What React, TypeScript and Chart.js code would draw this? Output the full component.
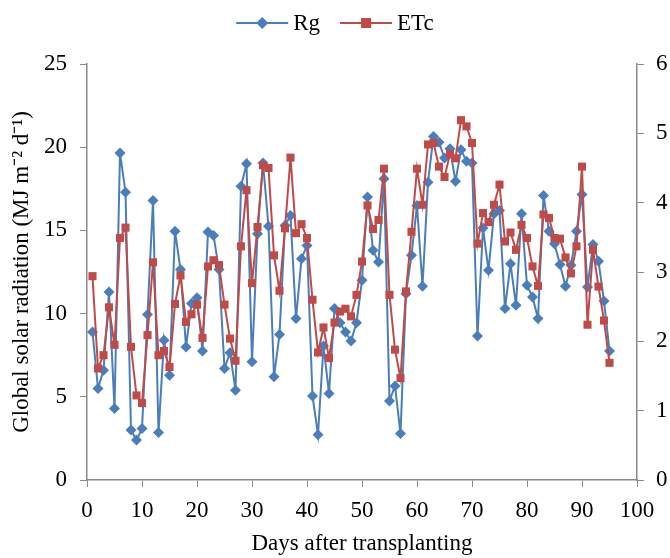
import React, { useEffect, useRef } from "react";
import { Chart, registerables } from "chart.js";
Chart.register(...registerables);

const days = [
  1, 2, 3, 4, 5, 6, 7, 8, 9, 10, 11, 12, 13, 14, 15, 16, 17, 18, 19, 20,
  21, 22, 23, 24, 25, 26, 27, 28, 29, 30, 31, 32, 33, 34, 35, 36, 37, 38, 39, 40,
  41, 42, 43, 44, 45, 46, 47, 48, 49, 50, 51, 52, 53, 54, 55, 56, 57, 58, 59, 60,
  61, 62, 63, 64, 65, 66, 67, 68, 69, 70, 71, 72, 73, 74, 75, 76, 77, 78, 79, 80,
  81, 82, 83, 84, 85, 86, 87, 88, 89, 90, 91, 92, 93, 94, 95,
];

const rg = [
  8.9, 5.5, 6.6, 11.3, 4.3, 19.65, 17.3, 3.0, 2.4, 3.1,
  9.95, 16.8, 2.85, 8.4, 6.3, 14.95, 12.65, 8.0, 10.6, 10.95,
  7.75, 14.9, 14.7, 12.65, 6.7, 7.65, 5.4, 17.65, 19.0, 7.1,
  14.8, 19.05, 15.25, 6.2, 8.75, 15.3, 15.9, 9.7, 13.3, 14.1,
  5.05, 2.72, 8.05, 5.2, 10.3, 9.45, 8.9, 8.35, 9.45, 12.0,
  17.0, 13.8, 13.1, 18.1, 4.75, 5.65, 2.8, 11.2, 13.5, 16.5,
  11.65, 17.9, 20.65, 20.3, 19.35, 19.9, 17.95, 19.85, 19.15, 19.05,
  8.65, 15.15, 12.6, 16.0, 16.2, 10.3, 13.0, 10.5, 16.0, 11.7,
  11.0, 9.7, 17.1, 14.95, 14.2, 12.95, 11.65, 12.9, 14.95, 17.15,
  11.6, 14.15, 13.15, 10.75, 7.75,
];

const etc = [
  2.94, 1.61, 1.8, 2.49, 1.95, 3.49, 3.64, 1.92, 1.22, 1.11,
  2.09, 3.14, 1.8, 1.86, 1.63, 2.54, 2.95, 2.28, 2.39, 2.53,
  2.05, 3.08, 3.17, 3.1, 2.53, 2.04, 1.72, 3.37, 4.18, 2.84,
  3.65, 4.54, 4.5, 3.24, 2.73, 3.63, 4.65, 3.56, 3.69, 3.49,
  2.6, 1.84, 2.2, 1.76, 2.27, 2.43, 2.47, 2.36, 2.67, 3.15,
  3.96, 3.62, 3.75, 4.49, 2.67, 1.88, 1.47, 2.72, 3.58, 4.49,
  3.97, 4.84, 4.86, 4.52, 4.37, 4.7, 4.64, 5.19, 5.1, 4.86,
  3.41, 3.85, 3.72, 3.97, 4.26, 3.44, 3.57, 3.32, 3.68, 3.49,
  3.08, 2.8, 3.83, 3.78, 3.49, 3.48, 3.21, 2.98, 3.37, 4.52,
  2.24, 3.32, 2.79, 2.3, 1.69,
];

const seriesNames = ["Rg", "ETc"];
const xTitle = "Days after transplanting";
const yTitle = "Global solar radiation (MJ m\u207B\u00B2 d\u207B\u00B9)";

const FONT = "'Liberation Serif', 'Times New Roman', serif";
const BLUE = "#4A7EBB";
const RED = "#BE4B48";
const AXIS = "#898989";

const customLegend = {
  id: "customLegend",
  afterDraw(chart: any) {
    const ctx = chart.ctx as CanvasRenderingContext2D;
    ctx.save();
    ctx.font = `23px ${FONT}`;
    const items = [
      { name: seriesNames[0], color: BLUE, kind: "diamond" },
      { name: seriesNames[1], color: RED, kind: "square" },
    ];
    const lineLen = 52;
    const gap = 5;
    const itemGap = 20;
    const widths = items.map((it) => lineLen + gap + ctx.measureText(it.name).width);
    const total = widths.reduce((a, b) => a + b, 0) + itemGap;
    let x = chart.width / 2 - total / 2;
    const y = 23;
    items.forEach((it, i) => {
      ctx.strokeStyle = it.color;
      ctx.lineWidth = 2;
      ctx.beginPath();
      ctx.moveTo(x, y);
      ctx.lineTo(x + lineLen, y);
      ctx.stroke();
      ctx.fillStyle = it.color;
      const cx = x + lineLen / 2;
      if (it.kind === "diamond") {
        ctx.beginPath();
        ctx.moveTo(cx, y - 6);
        ctx.lineTo(cx + 6, y);
        ctx.lineTo(cx, y + 6);
        ctx.lineTo(cx - 6, y);
        ctx.closePath();
        ctx.fill();
      } else {
        ctx.fillRect(cx - 5, y - 5, 10, 10);
      }
      ctx.fillStyle = "#000";
      ctx.textBaseline = "middle";
      ctx.textAlign = "left";
      ctx.fillText(it.name, x + lineLen + gap, y + 1);
      x += widths[i] + itemGap;
    });
    ctx.restore();
  },
};

export default function App() {
  const ref = useRef<HTMLCanvasElement | null>(null);

  useEffect(() => {
    if (!ref.current) return;
    const font = { family: FONT, size: 23 };
    const chart = new Chart(ref.current, {
      type: "line",
      data: {
        datasets: [
          {
            label: seriesNames[0],
            data: days.map((d, i) => ({ x: d, y: rg[i] })),
            borderColor: BLUE,
            backgroundColor: BLUE,
            borderWidth: 2,
            pointStyle: "rectRot",
            pointRadius: 5.5,
            pointBorderWidth: 0,
            tension: 0,
            yAxisID: "y",
            order: 1,
          },
          {
            label: seriesNames[1],
            data: days.map((d, i) => ({ x: d, y: etc[i] })),
            borderColor: RED,
            backgroundColor: RED,
            borderWidth: 2,
            pointStyle: "rect",
            pointRadius: 5.7,
            pointBorderWidth: 0,
            tension: 0,
            yAxisID: "y1",
            order: 0,
          },
        ],
      },
      options: {
        responsive: false,
        animation: false,
        layout: { padding: { top: 64, left: 0, right: 0, bottom: 0 } },
        plugins: {
          tooltip: { enabled: false },
          legend: { display: false },
        },
        scales: {
          x: {
            type: "linear",
            min: 0,
            max: 100,
            ticks: { stepSize: 10, font, color: "#000", padding: 10 },
            grid: { drawOnChartArea: false, tickLength: 7, color: AXIS },
            border: { color: AXIS, width: 1.5 },
            title: { display: true, text: xTitle, font, color: "#000", padding: { top: 4, bottom: 0 } },
            afterFit: (s: any) => {
              s.height = 78;
            },
          },
          y: {
            position: "left",
            min: 0,
            max: 25,
            ticks: { stepSize: 5, font, color: "#000", padding: 13 },
            grid: { drawOnChartArea: false, tickLength: 7, color: AXIS },
            border: { color: AXIS, width: 1.5 },
            title: { display: true, text: yTitle, font, color: "#000", padding: { top: 8, bottom: 0 } },
            afterFit: (s: any) => {
              s.width = 87;
            },
          },
          y1: {
            position: "right",
            min: 0,
            max: 6,
            ticks: { stepSize: 1, font, color: "#000", padding: 12 },
            grid: { drawOnChartArea: false, tickLength: 7, color: AXIS },
            border: { color: AXIS, width: 1.5 },
            afterFit: (s: any) => {
              s.width = 33;
            },
          },
        },
      },
      plugins: [customLegend],
    } as any);
    return () => chart.destroy();
  }, []);

  return (
    <div style={{ position: "fixed", left: 0, top: 0, width: 670, height: 558, background: "#fff" }}>
      <canvas ref={ref} width={670} height={558} style={{ display: "block", width: 670, height: 558 }} />
    </div>
  );
}
